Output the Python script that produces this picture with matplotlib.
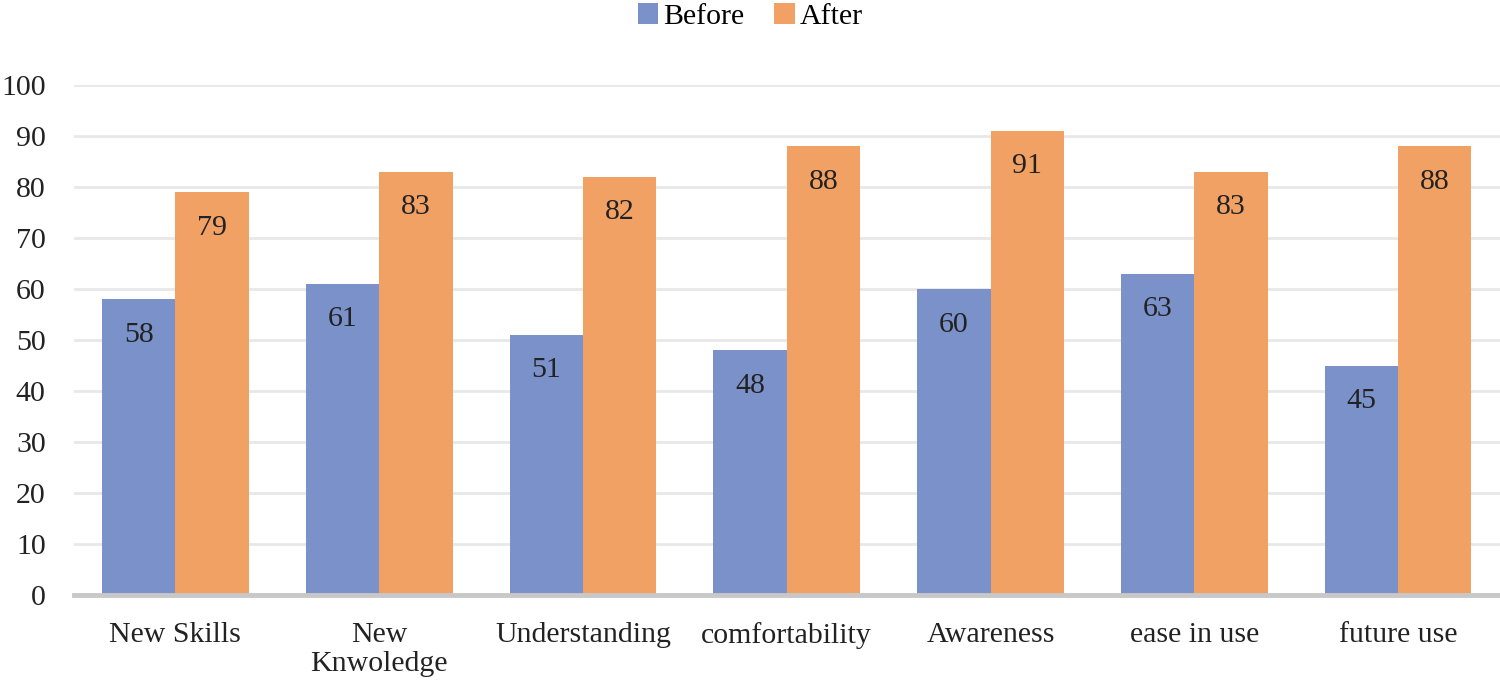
# grouped bar chart: before / after scores per category

import numpy as np
import matplotlib.pyplot as plt

plt.rcParams['font.family'] = ['Liberation Serif', 'DejaVu Serif']

categories = ['New Skills', 'New\nKnwoledge', 'Understanding', 'comfortability',
              'Awareness', 'ease in use', 'future use']
before = [58, 61, 51, 48, 60, 63, 45]
after = [79, 83, 82, 88, 91, 83, 88]

blue = '#7a91c9'
orange = '#f2a165'
fs = 21.5

fig = plt.figure(figsize=(15, 6.81), dpi=100)
ax = fig.add_axes([0.049, 0.126, 0.951, 0.749])

x = np.arange(len(categories))
w = 0.36
b1 = ax.bar(x - w / 2, before, w, color=blue, label='Before', zorder=3)
b2 = ax.bar(x + w / 2, after, w, color=orange, label='After', zorder=3)

for bars in (b1, b2):
    for r in bars:
        ax.annotate(f'{r.get_height():.0f}', (r.get_x() + r.get_width() / 2, r.get_height()),
                    xytext=(0, -25.5), textcoords='offset points', ha='center', va='center',
                    fontsize=fs, color='#222222', zorder=4)

ax.set_xlim(-0.5, len(categories) - 0.5)
ax.set_ylim(0, 100)
ax.set_yticks(range(0, 101, 10))
ax.set_xticks(x)
ax.set_xticklabels(categories, fontsize=fs, color='#222222', linespacing=1.15)
ax.tick_params(axis='y', labelsize=fs, labelcolor='#222222', length=0, pad=20)
ax.tick_params(axis='x', length=0, pad=19)
ax.yaxis.grid(True, color='#e8e8e8', linewidth=2, zorder=0)
ax.set_axisbelow(True)
for s in ['top', 'right', 'left']:
    ax.spines[s].set_visible(False)
ax.spines['bottom'].set_color('#c8c8c8')
ax.spines['bottom'].set_linewidth(3.5)
ax.spines['bottom'].set_zorder(5)

fig.legend(loc='upper center', bbox_to_anchor=(0.5, 1.035), ncol=2, frameon=False,
           fontsize=fs, handlelength=0.7, handleheight=0.7, handletextpad=0.15,
           columnspacing=1.0)

fig.savefig('out.png', dpi=100)
